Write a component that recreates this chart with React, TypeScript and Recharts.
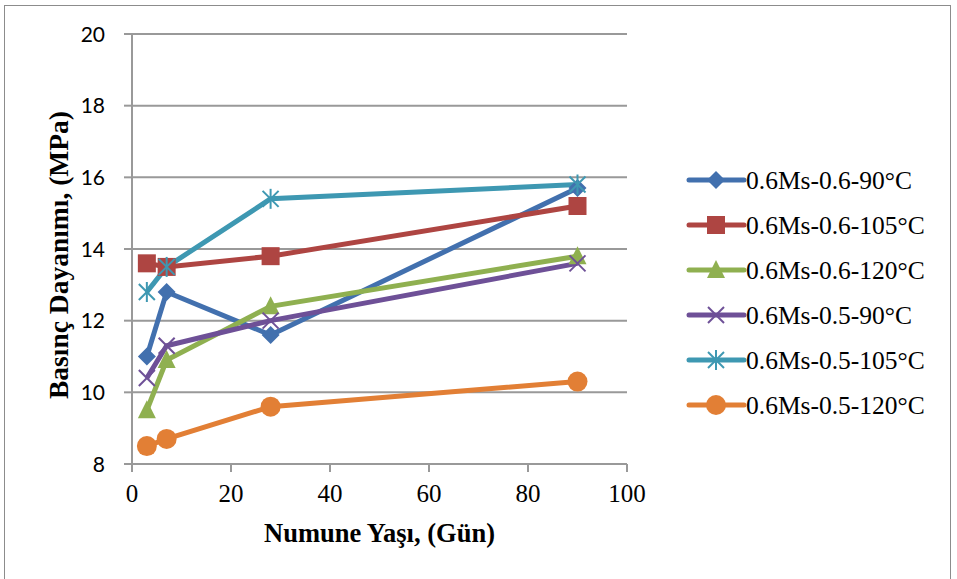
import React from "react";
import { LineChart, Line, XAxis, YAxis, CartesianGrid, Label } from "recharts";

const ages = [3, 7, 28, 90];
const s1 = [11.0, 12.8, 11.6, 15.7];
const s2 = [13.6, 13.5, 13.8, 15.2];
const s3 = [9.5, 10.9, 12.4, 13.8];
const s4 = [10.4, 11.3, 12.0, 13.6];
const s5 = [12.8, 13.5, 15.4, 15.8];
const s6 = [8.5, 8.7, 9.6, 10.3];
const seriesNames = [
  "0.6Ms-0.6-90°C",
  "0.6Ms-0.6-105°C",
  "0.6Ms-0.6-120°C",
  "0.6Ms-0.5-90°C",
  "0.6Ms-0.5-105°C",
  "0.6Ms-0.5-120°C",
];
const xTicks = [0, 20, 40, 60, 80, 100];
const yTicks = [8, 10, 12, 14, 16, 18, 20];

const colors = ["#4270AE", "#AE4542", "#8FB050", "#6E5097", "#3E98B2", "#E27F35"];
const markers = ["diamond", "square", "triangle", "cross", "star", "circle"];
const allSeries = [s1, s2, s3, s4, s5, s6];

const data = ages.map((a, i) => {
  const row: any = { x: a };
  allSeries.forEach((s, k) => (row["s" + k] = s[i]));
  return row;
});

function Marker({ kind, cx, cy, color }: { kind: string; cx: number; cy: number; color: string }) {
  if (cx == null || cy == null) return null;
  switch (kind) {
    case "diamond":
      return <polygon points={`${cx},${cy - 9} ${cx + 9},${cy} ${cx},${cy + 9} ${cx - 9},${cy}`} fill={color} />;
    case "square":
      return <rect x={cx - 9} y={cy - 9} width={18} height={18} fill={color} />;
    case "triangle":
      return <polygon points={`${cx},${cy - 10} ${cx + 9},${cy + 8} ${cx - 9},${cy + 8}`} fill={color} />;
    case "cross":
      return (
        <g stroke={color} strokeWidth={2}>
          <line x1={cx - 8} y1={cy - 8} x2={cx + 8} y2={cy + 8} />
          <line x1={cx - 8} y1={cy + 8} x2={cx + 8} y2={cy - 8} />
        </g>
      );
    case "star":
      return (
        <g stroke={color} strokeWidth={2}>
          <line x1={cx - 8} y1={cy - 8} x2={cx + 8} y2={cy + 8} />
          <line x1={cx - 8} y1={cy + 8} x2={cx + 8} y2={cy - 8} />
          <line x1={cx} y1={cy - 10} x2={cx} y2={cy + 10} />
        </g>
      );
    default:
      return <circle cx={cx} cy={cy} r={10} fill={color} />;
  }
}

const YTick = (props: any) => {
  const { x, y, payload } = props;
  return (
    <text x={x - 17} y={y} dy={7.5} textAnchor="end" fontFamily="Lato, sans-serif" fontSize={21} fill="#000">
      {payload.value}
    </text>
  );
};

const XTick = (props: any) => {
  const { x, y, payload } = props;
  return (
    <text x={x} y={y} dy={28} textAnchor="middle" fontFamily="'Liberation Serif', serif" fontSize={25} fill="#000">
      {payload.value}
    </text>
  );
};

export default function App() {
  return (
    <div style={{ position: "absolute", left: 0, top: 0, width: 957, height: 579, overflow: "hidden", background: "#fff" }}>
      <div style={{ position: "absolute", left: 4, top: 5, width: 945, height: 640, border: "1px solid #8c8c8c" }} />
      <div style={{ position: "absolute", left: 0, top: 0 }}>
        <LineChart width={957} height={579} data={data} margin={{ top: 34, right: 330, bottom: 0, left: 0 }}>
          <CartesianGrid vertical={false} stroke="#999999" strokeWidth={2} />
          <XAxis
            dataKey="x"
            type="number"
            domain={[0, 100]}
            ticks={xTicks}
            height={115}
            tickSize={8}
            stroke="#999999"
            strokeWidth={2}
            tick={<XTick />}
            interval={0}
          >
            <Label
              content={(p: any) => {
                const vb = p.viewBox;
                return (
                  <text
                    x={vb.x + vb.width / 2}
                    y={vb.y + 78}
                    textAnchor="middle"
                    fontFamily="'Liberation Serif', serif"
                    fontWeight="bold"
                    fontSize={26.5}
                    fill="#000"
                  >
                    Numune Yaşı, (Gün)
                  </text>
                );
              }}
            />
          </XAxis>
          <YAxis
            type="number"
            domain={[8, 20]}
            ticks={yTicks}
            width={132}
            tickSize={8}
            stroke="#999999"
            strokeWidth={2}
            tick={<YTick />}
            interval={0}
          >
            <Label
              content={(p: any) => {
                const vb = p.viewBox;
                const cx = 68;
                const cy = vb.y + vb.height / 2 + 6;
                return (
                  <text
                    x={cx}
                    y={cy}
                    transform={`rotate(-90 ${cx} ${cy})`}
                    textAnchor="middle"
                    fontFamily="'Liberation Serif', serif"
                    fontWeight="bold"
                    fontSize={27.5}
                    fill="#000"
                  >
                    Basınç Dayanımı, (MPa)
                  </text>
                );
              }}
            />
          </YAxis>
          {allSeries.map((_, k) => (
            <Line
              key={k}
              dataKey={"s" + k}
              stroke={colors[k]}
              strokeWidth={5}
              isAnimationActive={false}
              dot={(p: any) => <Marker key={p.index} kind={markers[k]} cx={p.cx} cy={p.cy} color={colors[k]} />}
              activeDot={false}
            />
          ))}
        </LineChart>
      </div>
      <svg style={{ position: "absolute", left: 680, top: 158 }} width={277} height={270}>
        {seriesNames.map((n, k) => {
          const y = 22 + k * 45;
          return (
            <g key={n}>
              <line x1={9} y1={y} x2={64} y2={y} stroke={colors[k]} strokeWidth={5} strokeLinecap="round" />
              <Marker kind={markers[k]} cx={36} cy={y} color={colors[k]} />
              <text x={66} y={y + 8.5} fontFamily="'Liberation Serif', serif" fontSize={25.5} fill="#000">
                {n}
              </text>
            </g>
          );
        })}
      </svg>
    </div>
  );
}
